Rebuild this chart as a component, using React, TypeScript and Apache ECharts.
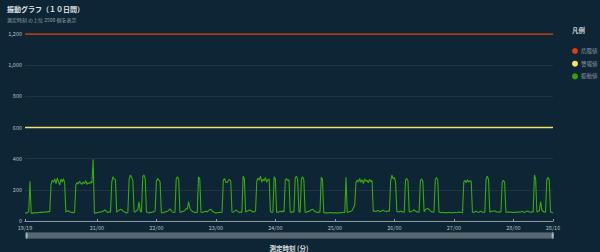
import React, { useEffect, useRef } from "react";
import * as echarts from "echarts";

// 30-minute samples starting 19th 19:00
const day19 = [52, 50, 55, 60, 255, 48, 52, 50, 55, 53];
const day20 = [
  52, 56, 54, 57, 55, 58, 56, 60, 58, 61, 60,
  235, 262, 248, 270, 240, 275, 255, 230, 268, 250, 272, 245,
  58, 62, 66, 60, 55, 58, 52, 56,
  230, 248, 238, 255, 242, 236, 250, 240, 258, 235, 246, 240, 252, 244,
  396, 50, 52,
];
const day21 = [
  54, 55, 58, 56, 60, 62, 70, 68, 58, 55, 60, 57,
  250, 284, 270, 265,
  58, 62, 70, 75, 72, 65, 58, 55, 52, 56,
  265, 295, 280, 260,
  60, 58, 66, 72, 123, 62, 58,
  285, 295, 270,
  58, 55, 52, 56, 54, 58, 60, 65,
];
const day22 = [
  255, 273, 262, 250,
  55, 52, 56, 58, 60, 62, 70, 78, 66, 58, 54, 56,
  270, 284, 268,
  55, 58, 60, 62, 68, 80, 76, 124, 82, 70, 62, 58, 55, 56, 54,
  284, 270,
  56, 54, 58, 60, 62, 58, 66, 72, 75, 64, 58, 55,
];
const day23 = [
  52, 55, 53, 56, 54, 58,
  262, 273, 250, 245, 258, 268, 255,
  58, 56, 62, 70, 66, 60, 55, 58, 56,
  288, 270,
  58, 62, 66, 70, 68, 62, 58, 60, 64,
  255, 275, 262, 288, 250, 268, 258, 280, 248, 265, 270,
  60, 55, 58, 284,
];
const day24 = [
  270,
  58, 55, 60, 62, 58, 64, 60,
  262, 273, 258, 265,
  58, 55, 60, 58,
  275, 288, 265,
  60, 56,
  268, 284, 262,
  58, 55, 62, 60, 66, 72, 75, 68, 60, 58, 55, 58, 56,
  280, 268,
  55, 52, 54, 50, 53, 55, 52, 54, 50,
];
const day25 = [
  52, 54, 50, 53, 55, 52, 54, 56, 53,
  280,
  55, 58, 60, 62, 68, 85, 100,
  245, 262, 250, 273, 248, 265, 240, 270, 255, 262, 245, 268, 252, 260,
  62, 65, 60, 64, 68, 62, 60, 66, 70, 64, 62, 60, 65, 62,
  255, 295, 270,
];
const day26 = [
  280, 250,
  62, 58, 60, 64, 60, 58, 56,
  262, 273, 258,
  58, 60, 62, 66, 72, 64, 60, 58, 56,
  260, 270, 255,
  60, 72, 78, 80, 74, 66, 60, 58, 56,
  265, 280, 262,
  58, 55, 54, 56, 53, 55, 52, 54, 56, 53, 55, 52,
];
const day27 = [
  54, 56, 53, 55, 58, 54, 56, 55,
  248, 262, 245, 265, 250, 258, 255,
  58, 55, 60, 62, 58, 56, 60, 62, 58, 55, 57,
  270, 288, 265,
  58, 60, 64, 62, 66, 60, 58, 56, 60, 58,
  250, 261, 248,
  58, 55, 60, 56, 58, 54,
];
const day28 = [
  56, 54, 58, 55, 60, 56, 58, 62, 58, 55, 60, 64, 62, 58, 56, 60, 57,
  295, 270,
  58, 62, 66, 124, 70, 60, 58, 56,
  265, 280, 262,
  58, 55, 54,
];

const dangerValue = 1200;
const warningValue = 600;
const yTicks = [0, 200, 400, 600, 800, 1000, 1200];
const seriesNames = ["危険値", "警報値", "振動値"];
// labelled days (midnights) between the first and last sample
const labelDays = [21, 22, 23, 24, 25, 26, 27, 28];

const START = new Date(2024, 4, 19, 19, 0, 0).getTime();
const STEP = 30 * 60 * 1000;

const pad = (n: number) => (n < 10 ? "0" + n : "" + n);

export default function App() {
  const ref = useRef<HTMLDivElement>(null);
  useEffect(() => {
    document.body.style.margin = "0";
    if (!ref.current) return;
    const chart = echarts.init(ref.current, null, { renderer: "svg" });
    const values = [
      ...day19, ...day20, ...day21, ...day22, ...day23,
      ...day24, ...day25, ...day26, ...day27, ...day28,
    ];
    const vib = values.map((v, i) => [START + i * STEP, v]);
    const END = START + (values.length - 1) * STEP;
    const tickValues = [
      START,
      ...labelDays.map((d) => new Date(2024, 4, d, 0, 0, 0).getTime()),
      END,
    ];
    const font = "'Noto Sans CJK JP', 'Noto Sans', sans-serif";
    chart.setOption({
      animation: false,
      backgroundColor: "#0d2534",
      textStyle: { fontFamily: font },
      title: [
        {
          text: "振動グラフ（１０日間）",
          subtext: "測定時刻 の上位 2500 個を表示",
          left: 2,
          top: 0,
          itemGap: 5,
          textStyle: { color: "#e2e6e8", fontSize: 7, fontWeight: "bold", fontFamily: font },
          subtextStyle: { color: "#97a3aa", fontSize: 5, fontFamily: font },
        },
        {
          text: "凡例",
          left: 567,
          top: 22,
          textStyle: { color: "#c9d0d4", fontSize: 6.5, fontWeight: "bold", fontFamily: font },
        },
      ],
      legend: {
        orient: "vertical",
        left: 567,
        top: 43,
        icon: "circle",
        itemWidth: 6,
        itemHeight: 6,
        itemGap: 6.7,
        data: seriesNames,
        textStyle: { color: "#8f9ba2", fontSize: 5.5, fontFamily: font, padding: [0, 0, 0, -2] },
      },
      grid: { left: 25, right: 47, top: 34, bottom: 31, outerBoundsMode: "none", containLabel: false },
      xAxis: {
        type: "value",
        min: START,
        max: END,
        name: "測定時刻 (分)",
        nameLocation: "middle",
        nameGap: 24,
        nameTextStyle: { color: "#d6dcdf", fontSize: 6.5, fontWeight: "bold", fontFamily: font },
        axisLine: { lineStyle: { color: "#8d9aa2", width: 1 } },
        axisTick: {
          show: true,
          inside: true,
          length: 2,
          customValues: tickValues,
          lineStyle: { color: "#8d9aa2" },
        },
        splitLine: { show: false },
        axisLabel: {
          customValues: tickValues,
          formatter: (v: number) => {
            const d = new Date(v);
            return pad(d.getDate()) + "/" + pad(d.getHours());
          },
          color: "#b8c0c5",
          fontSize: 5.5,
          margin: 4,
          fontFamily: font,
        },
      },
      yAxis: {
        type: "value",
        min: yTicks[0],
        max: yTicks[yTicks.length - 1],
        interval: 200,
        axisLine: { show: false },
        axisTick: { show: false },
        splitLine: { lineStyle: { color: "rgba(255,255,255,0.07)", width: 1 } },
        axisLabel: {
          color: "#b8c0c5",
          fontSize: 5.5,
          margin: 3,
          fontFamily: font,
          formatter: (v: number) => v.toLocaleString("en-US"),
        },
      },
      dataZoom: [
        {
          type: "slider",
          xAxisIndex: 0,
          start: 0,
          end: 100,
          left: 25,
          right: 47,
          top: 232,
          height: 7,
          filterMode: "none",
          showDetail: false,
          showDataShadow: false,
          moveHandleSize: 0,
          brushSelect: false,
          backgroundColor: "rgba(60,75,85,0.5)",
          borderColor: "#3b4c57",
          fillerColor: "rgba(105,120,130,0.75)",
          handleSize: "100%",
          handleStyle: { color: "#d0d6da", borderColor: "#8d9aa2" },
        },
      ],
      series: [
        {
          name: seriesNames[0],
          type: "line",
          data: [[START, dangerValue], [END, dangerValue]],
          showSymbol: false,
          itemStyle: { color: "#d8400e" },
          lineStyle: { color: "#d8400e", width: 1.5 },
        },
        {
          name: seriesNames[1],
          type: "line",
          data: [[START, warningValue], [END, warningValue]],
          showSymbol: false,
          itemStyle: { color: "#f3e36a" },
          lineStyle: { color: "#f3e36a", width: 1.5 },
        },
        {
          name: seriesNames[2],
          type: "line",
          data: vib,
          showSymbol: false,
          itemStyle: { color: "#36a10f" },
          lineStyle: { color: "#3aa812", width: 1.1 },
        },
      ],
    });
    return () => chart.dispose();
  }, []);
  return <div ref={ref} style={{ width: 600, height: 252 }} />;
}
